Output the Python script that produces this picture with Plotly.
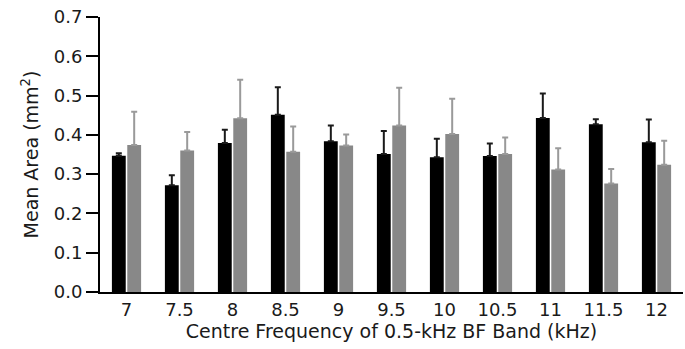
import plotly.graph_objects as go

categories = ["7", "7.5", "8", "8.5", "9", "9.5", "10", "10.5", "11", "11.5", "12"]
black_vals = [0.347, 0.272, 0.379, 0.451, 0.384, 0.351, 0.343, 0.346, 0.443, 0.427, 0.381]
black_err = [0.006, 0.025, 0.034, 0.070, 0.040, 0.059, 0.047, 0.032, 0.062, 0.013, 0.058]
gray_vals = [0.374, 0.360, 0.442, 0.357, 0.373, 0.424, 0.402, 0.351, 0.312, 0.276, 0.324]
gray_err = [0.085, 0.047, 0.098, 0.064, 0.028, 0.096, 0.090, 0.042, 0.054, 0.037, 0.061]
y_ticks = [0.0, 0.1, 0.2, 0.3, 0.4, 0.5, 0.6, 0.7]

font = "DejaVu Sans, Verdana, sans-serif"

fig = go.Figure()
fig.add_trace(go.Bar(
    x=categories, y=black_vals, marker=dict(color="#000000", line=dict(width=0)),
    error_y=dict(type="data", array=black_err, symmetric=False, arrayminus=[0]*len(black_err),
                 color="#1a1a1a", thickness=2, width=3),
    showlegend=False,
))
fig.add_trace(go.Bar(
    x=categories, y=gray_vals, marker=dict(color="#888888", line=dict(width=0)),
    error_y=dict(type="data", array=gray_err, symmetric=False, arrayminus=[0]*len(gray_err),
                 color="#9a9a9a", thickness=2, width=3),
    showlegend=False,
))

fig.update_layout(
    width=685, height=349,
    margin=dict(l=100, r=2, t=17, b=57),
    paper_bgcolor="white", plot_bgcolor="white",
    barmode="group", bargap=0.42, bargroupgap=0.1,
    font=dict(family=font, size=18, color="#1a1a1a"),
    xaxis=dict(
        automargin=False,
        showline=True, linecolor="#000000", linewidth=2,
        showgrid=False, ticks="", tickfont=dict(size=18),
        title=dict(text="Centre Frequency of 0.5-kHz BF Band (kHz)", font=dict(size=19), standoff=2),
        zeroline=False,
    ),
    yaxis=dict(
        automargin=False, ticklabeloverflow="allow",
        range=[0, 0.7], tickvals=y_ticks, ticktext=[f"{v:.1f}" for v in y_ticks],
        showline=True, linecolor="#000000", linewidth=2,
        ticks="outside", ticklen=12, tickwidth=2, tickcolor="#000000",
        showgrid=False, zeroline=False, tickfont=dict(size=18),
        title=dict(text="Mean Area (mm<sup>2</sup>)", font=dict(size=19), standoff=10),
    ),
)

fig.write_html("out.html", config={"displayModeBar": False},
               post_script="document.body.style.margin='0';")
